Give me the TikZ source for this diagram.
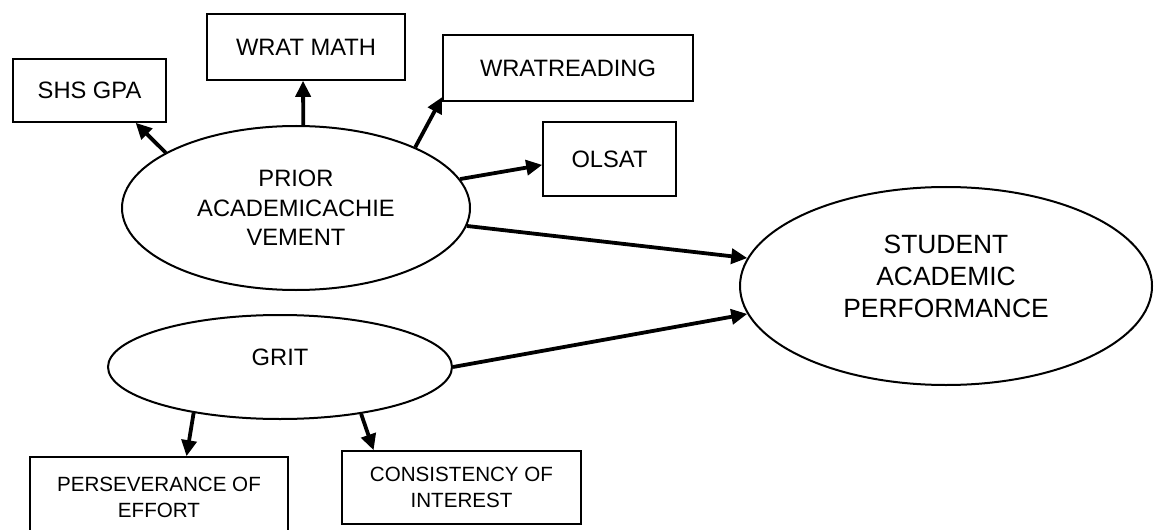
\documentclass[tikz,border=0pt]{standalone}
\usepackage{fontspec}
\setmainfont{Liberation Sans}
\usepackage{tikz}
\usetikzlibrary{arrows.meta, shapes.geometric}

\begin{document}
\begin{tikzpicture}[
	x=0.5pt, y=-0.5pt,
	indicator/.style = {rectangle, draw, line width=0.8pt, inner sep=0pt, align=center, font=\fontsize{11.85}{14.75}\selectfont},
	small indicator/.style = {indicator, font=\fontsize{10.3}{13}\selectfont},
	construct/.style = {ellipse, draw, line width=1pt, inner sep=0pt, align=center, font=\fontsize{11.85}{14.75}\selectfont},
	path arrow/.style = {line width=1.9pt, -{Triangle[length=8pt, width=7.5pt]}}
]
\useasboundingbox (0,0) rectangle (1154,529);
\clip (0,0) rectangle (1154,529);

% latent constructs
\node[construct, minimum width=174pt, minimum height=82pt] (prior) at (296,208) {PRIOR\\ACADEMICACHIE\\VEMENT};
\node[construct, minimum width=172pt, minimum height=52pt, text depth=10pt] (grit) at (280,367) {GRIT};
\node[construct, minimum width=206pt, minimum height=99pt, text depth=10pt,
	font=\fontsize{13.2}{16}\selectfont] (perf) at (946,286) {STUDENT\\ACADEMIC\\PERFORMANCE};

% indicators
\node[indicator, minimum width=76.5pt, minimum height=31.5pt] (shsgpa) at (89.5,90.5) {SHS GPA};
\node[indicator, minimum width=99pt, minimum height=33pt] (wratmath) at (306,47) {WRAT MATH};
\node[indicator, minimum width=125pt, minimum height=33pt] (wratread) at (568,68) {WRATREADING};
\node[indicator, minimum width=66.5pt, minimum height=37pt] (olsat) at (609.5,159) {OLSAT};
\node[small indicator, minimum width=129pt, minimum height=40pt] (effort) at (159,497) {PERSEVERANCE OF\\EFFORT};
\node[small indicator, minimum width=119.5pt, minimum height=36.5pt] (interest) at (461.5,487.5) {CONSISTENCY OF\\INTEREST};

% paths
\draw[path arrow] (prior.157) -- (shsgpa.-35);
\draw[path arrow] (prior.85) -- (wratmath.-95);
\draw[path arrow] (prior.27) -- (wratread.193);
\draw[path arrow] (prior.10) -- (olsat.185);
\draw[path arrow] (prior.-6) -- (perf.172);
\draw[path arrow] (grit.east) -- (perf.188);
\draw[path arrow] (grit.208) -- (effort.56);
\draw[path arrow] (grit.-30) -- (interest.157);

\end{tikzpicture}
\end{document}
